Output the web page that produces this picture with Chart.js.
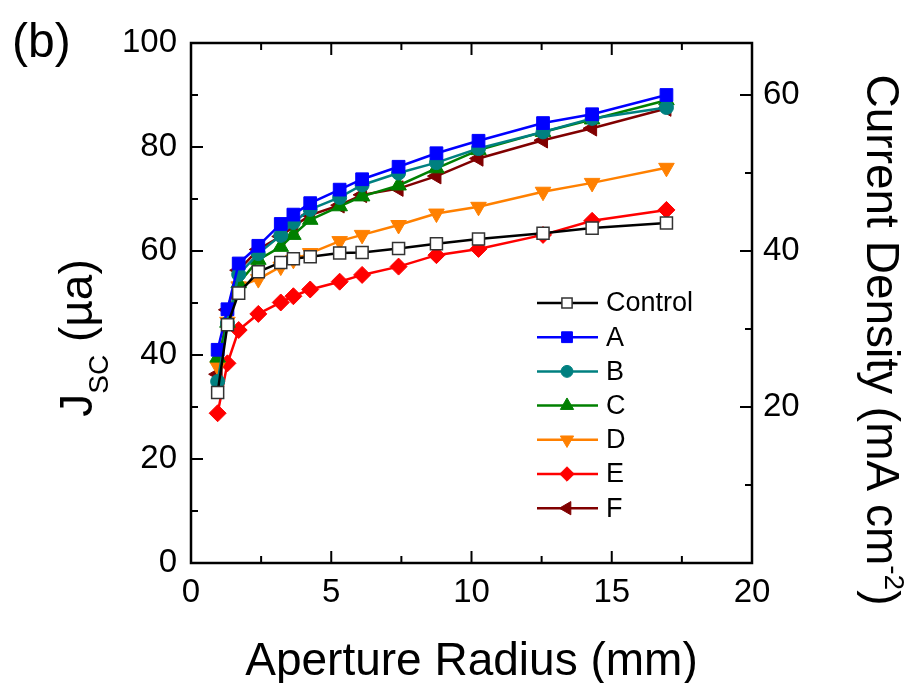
<!DOCTYPE html>
<html>
<head>
<meta charset="utf-8">
<script src="https://cdn.jsdelivr.net/npm/chart.js@4"></script>
<style>
  html, body { margin: 0; padding: 0; background: #fff; }
  #wrap { width: 917px; height: 683px; }
</style>
</head>
<body>
<div id="wrap"><canvas id="jscChart" width="917" height="683"></canvas></div>
<script>
// aperture radius (mm), same for every sample
const radius = [0.95, 1.3, 1.7, 2.4, 3.2, 3.65, 4.25, 5.3, 6.1, 7.4, 8.75, 10.25, 12.55, 14.3, 16.95];

// Jsc values (left axis, µa)
const control = [32.8, 45.8, 51.9, 56.0, 57.8, 58.5, 58.9, 59.6, 59.7, 60.5, 61.4, 62.3, 63.4, 64.4, 65.4];
const sampleA = [41.0, 48.8, 57.6, 61.0, 65.2, 67.0, 69.2, 71.8, 73.8, 76.2, 78.8, 81.2, 84.6, 86.3, 90.0];
const sampleB = [34.9, 46.1, 55.5, 59.5, 63.0, 65.5, 68.0, 70.3, 72.7, 75.0, 77.0, 79.7, 82.9, 85.5, 87.6];
const sampleC = [39.5, 46.2, 53.8, 58.3, 60.8, 63.1, 66.0, 68.6, 70.5, 72.6, 75.9, 79.4, 82.9, 85.3, 89.0];
const sampleD = [37.8, 46.4, 53.2, 54.6, 57.0, 58.3, 59.6, 61.9, 63.1, 65.0, 67.2, 68.5, 71.4, 73.1, 76.0];
const sampleE = [28.8, 38.4, 44.8, 47.9, 50.1, 51.3, 52.6, 54.1, 55.4, 57.0, 59.2, 60.4, 63.1, 65.8, 67.9];
const sampleF = [36.3, 48.7, 56.3, 60.3, 62.8, 64.7, 66.9, 68.8, 70.8, 72.0, 74.4, 77.8, 81.3, 83.6, 87.4];

// tick labels
const xTicks = [0, 5, 10, 15, 20];
const yTicks = [0, 20, 40, 60, 80, 100];
const y2Ticks = [20, 40, 60];

const FONT = "'Liberation Sans', Arial, sans-serif";

function pts(ys) {
    return ys.map((y, i) => ({ x: radius[i], y: y }));
}

function series(label, ys, color, style, extra) {
    return Object.assign({
        label: label,
        data: pts(ys),
        borderColor: color,
        backgroundColor: color,
        pointBackgroundColor: color,
        pointBorderColor: color,
        pointBorderWidth: 1,
        borderWidth: 2.5,
        pointStyle: style,
        pointRadius: 9,
        pointRotation: 0,
        tension: 0,
        yAxisID: 'y'
    }, extra || {});
}

const datasets = [
    series('Control', control, '#000000', 'rect', { pointBackgroundColor: '#ffffff', pointBorderColor: '#333333', pointBorderWidth: 1.5, pointRadius: 8.5 }),
    series('A', sampleA, '#0000ff', 'rect'),
    series('B', sampleB, '#008080', 'circle', { pointRadius: 7 }),
    series('C', sampleC, '#008000', 'triangle'),
    series('D', sampleD, '#ff8000', 'triangle', { pointRotation: 180 }),
    series('E', sampleE, '#ff0000', 'rectRot', { pointRadius: 8.5 }),
    series('F', sampleF, '#800000', 'triangle', { pointRotation: 270 })
];

// frame + inward ticks, axis titles, legend
const decor = {
    id: 'decor',
    beforeDatasetsDraw(chart) {
        const ctx = chart.ctx, a = chart.chartArea;
        const sx = chart.scales.x, sy = chart.scales.y, sy2 = chart.scales.y2;
        ctx.save();
        ctx.strokeStyle = '#000';
        ctx.lineWidth = 2.5;
        ctx.strokeRect(a.left, a.top, a.right - a.left, a.bottom - a.top);
        ctx.lineWidth = 2;
        ctx.beginPath();
        for (let v = 2.5; v < 20; v += 2.5) {
            const len = v % 5 === 0 ? 12 : 7;
            const px = sx.getPixelForValue(v);
            ctx.moveTo(px, a.bottom); ctx.lineTo(px, a.bottom - len);
            ctx.moveTo(px, a.top); ctx.lineTo(px, a.top + len);
        }
        for (let v = 10; v < 100; v += 10) {
            const len = v % 20 === 0 ? 12 : 7;
            const py = sy.getPixelForValue(v);
            ctx.moveTo(a.left, py); ctx.lineTo(a.left + len, py);
        }
        for (let v = 10; v <= 60; v += 10) {
            const len = v % 20 === 0 ? 12 : 7;
            const py = sy2.getPixelForValue(v);
            ctx.moveTo(a.right, py); ctx.lineTo(a.right - len, py);
        }
        ctx.stroke();
        ctx.restore();
    },
    afterDraw(chart) {
        const ctx = chart.ctx, a = chart.chartArea;
        ctx.save();
        ctx.fillStyle = '#000';
        ctx.textBaseline = 'alphabetic';

        // panel label
        ctx.font = '48px ' + FONT;
        ctx.textAlign = 'left';
        ctx.fillText('(b)', 12, 57);

        // x title
        ctx.font = '46px ' + FONT;
        ctx.textAlign = 'center';
        ctx.fillText('Aperture Radius (mm)', (a.left + a.right) / 2, 675);

        // left title with subscript
        ctx.textAlign = 'left';
        const big = '46px ' + FONT, small = '28px ' + FONT;
        ctx.font = big; const wJ = ctx.measureText('J').width;
        const wRest = ctx.measureText(' (\u00b5a)').width;
        ctx.font = small; const wSC = ctx.measureText('SC').width;
        let total = wJ + wSC + wRest;
        ctx.save();
        ctx.translate(92, 338);
        ctx.rotate(-Math.PI / 2);
        let x0 = -total / 2;
        ctx.font = big; ctx.fillText('J', x0, 0); x0 += wJ;
        ctx.font = small; ctx.fillText('SC', x0, 16); x0 += wSC;
        ctx.font = big; ctx.fillText(' (\u00b5a)', x0, 0);
        ctx.restore();

        // right title with superscript
        ctx.font = big; const wMain = ctx.measureText('Current Density (mA cm').width;
        const wClose = ctx.measureText(')').width;
        ctx.font = small; const wSup = ctx.measureText('-2').width;
        total = wMain + wSup + wClose;
        ctx.save();
        ctx.translate(867, 340);
        ctx.rotate(Math.PI / 2);
        x0 = -total / 2;
        ctx.font = big; ctx.fillText('Current Density (mA cm', x0, 0); x0 += wMain;
        ctx.font = small; ctx.fillText('-2', x0, -18); x0 += wSup;
        ctx.font = big; ctx.fillText(')', x0, 0);
        ctx.restore();

        // legend: line with marker, then label
        ctx.font = '27px ' + FONT;
        ctx.textBaseline = 'middle';
        chart.data.datasets.forEach((ds, i) => {
            const y = 303 + i * 34.2;
            ctx.strokeStyle = ds.borderColor;
            ctx.lineWidth = 2.5;
            ctx.beginPath();
            ctx.moveTo(537, y); ctx.lineTo(598, y);
            ctx.stroke();
            ctx.fillStyle = ds.pointBackgroundColor;
            ctx.strokeStyle = ds.pointBorderColor;
            ctx.lineWidth = ds.pointBorderWidth;
            Chart.helpers.drawPoint(ctx, {
                pointStyle: ds.pointStyle,
                radius: ds.pointRadius * 0.85,
                rotation: ds.pointRotation,
                borderWidth: ds.pointBorderWidth
            }, 567, y);
            ctx.fillStyle = '#000';
            ctx.fillText(ds.label, 606, y + 1);
        });
        ctx.restore();
    }
};

const config = {
    type: 'line',
    data: { datasets: datasets },
    options: {
        responsive: false,
        animation: false,
        layout: { autoPadding: false, padding: { top: 43, left: 0, right: 0, bottom: 0 } },
        plugins: { legend: { display: false }, tooltip: { enabled: false } },
        scales: {
            x: {
                type: 'linear', position: 'bottom', min: 0, max: 20,
                afterFit: s => { s.height = 120; },
                afterBuildTicks: s => { s.ticks = xTicks.map(v => ({ value: v })); },
                grid: { display: false, drawTicks: false },
                border: { display: false },
                ticks: { color: '#000', font: { family: FONT, size: 33 }, padding: 10, maxRotation: 0 }
            },
            y: {
                type: 'linear', position: 'left', min: 0, max: 100,
                afterFit: s => { s.width = 191; },
                afterBuildTicks: s => { s.ticks = yTicks.map(v => ({ value: v })); },
                grid: { display: false, drawTicks: false },
                border: { display: false },
                ticks: { color: '#000', font: { family: FONT, size: 33 }, padding: 14 }
            },
            y2: {
                type: 'linear', position: 'right', min: 0, max: 100 / 1.5,
                afterFit: s => { s.width = 165; },
                afterBuildTicks: s => { s.ticks = y2Ticks.map(v => ({ value: v })); },
                grid: { display: false, drawTicks: false },
                border: { display: false },
                ticks: { color: '#000', font: { family: FONT, size: 33 }, padding: 11 }
            }
        }
    },
    plugins: [decor]
};

const ctx = document.getElementById('jscChart').getContext('2d');
const jscChart = new Chart(ctx, config);
</script>
</body>
</html>
